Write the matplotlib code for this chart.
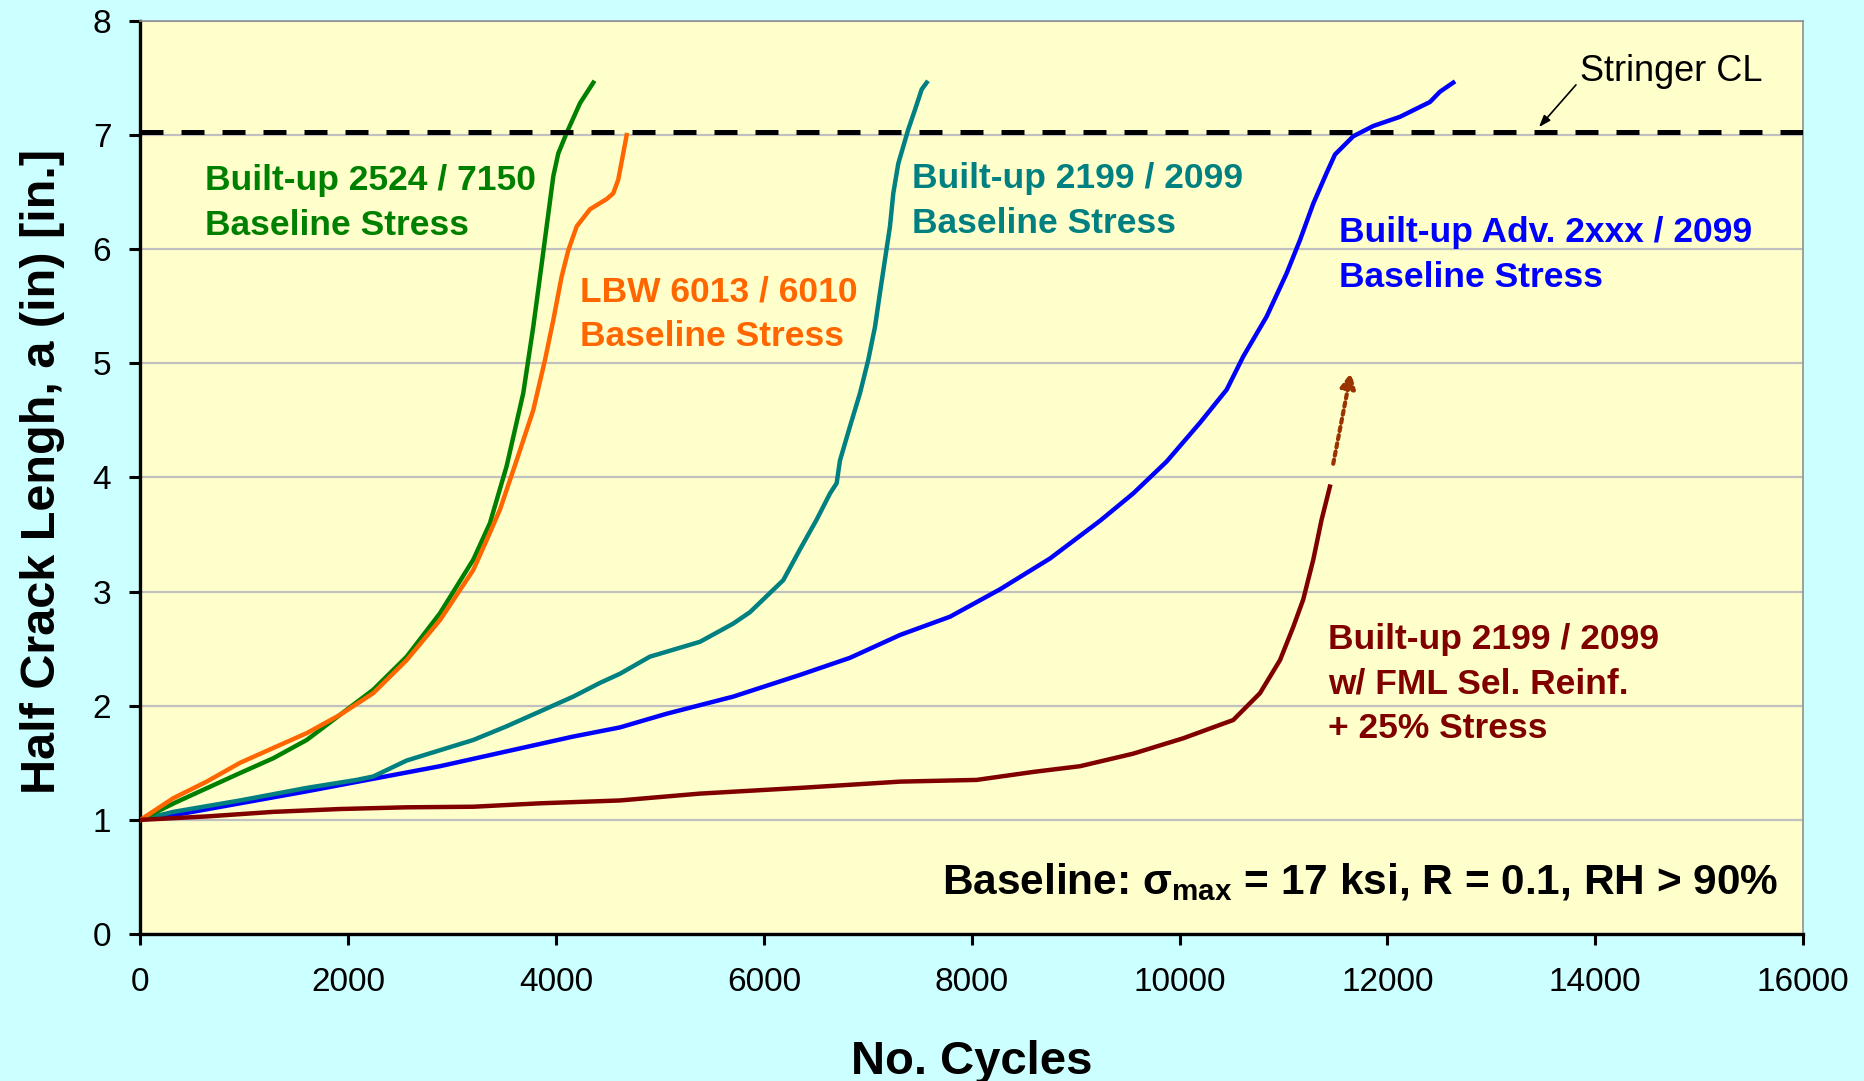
import matplotlib
matplotlib.use("Agg")
import matplotlib.pyplot as plt

plt.rcParams["font.family"] = ["Liberation Sans", "DejaVu Sans"]
plt.rcParams["mathtext.fontset"] = "custom"
plt.rcParams["mathtext.rm"] = "Liberation Sans"
plt.rcParams["mathtext.it"] = "Liberation Sans:italic"
plt.rcParams["mathtext.bf"] = "Liberation Sans:bold"

# crack growth curves (cycles, half crack length in inches)
green_x = [0, 320, 637, 958, 1278, 1600, 1920, 2240, 2562, 2882, 3203, 3363, 3524,
           3684, 3780, 3845, 3909, 3973, 4021, 4102, 4230, 4358]
green_y = [1.0, 1.145, 1.277, 1.41, 1.54, 1.70, 1.92, 2.14, 2.43, 2.81, 3.28, 3.60, 4.10,
           4.74, 5.32, 5.76, 6.20, 6.64, 6.84, 7.02, 7.28, 7.46]

orange_x = [0, 316, 637, 958, 1278, 1600, 1920, 2240, 2562, 2882, 3203, 3331, 3460,
            3620, 3780, 3893, 3973, 4053, 4117, 4198, 4326, 4487, 4550, 4598, 4646, 4679]
orange_y = [1.0, 1.19, 1.335, 1.50, 1.63, 1.76, 1.92, 2.11, 2.40, 2.75, 3.19, 3.45, 3.72,
            4.15, 4.59, 5.03, 5.38, 5.76, 5.99, 6.20, 6.35, 6.44, 6.49, 6.61, 6.84, 7.00]

teal_x = [0, 316, 958, 1600, 2080, 2240, 2562, 2882, 3203, 3524, 3845, 4165, 4422, 4614,
          4903, 5384, 5705, 5866, 6026, 6186, 6347, 6507, 6636, 6700, 6732, 6829, 6925,
          7004, 7069, 7117, 7165, 7213, 7245, 7293, 7341, 7389, 7453, 7518, 7566]
teal_y = [1.0, 1.07, 1.17, 1.28, 1.35, 1.38, 1.52, 1.61, 1.70, 1.82, 1.95, 2.08, 2.20, 2.28,
          2.43, 2.56, 2.72, 2.82, 2.96, 3.10, 3.37, 3.63, 3.86, 3.95, 4.15, 4.45, 4.74,
          5.03, 5.32, 5.62, 5.91, 6.20, 6.49, 6.75, 6.90, 7.05, 7.22, 7.40, 7.46]

blue_x = [0, 316, 958, 1600, 2240, 2882, 3524, 4165, 4614, 5064, 5705, 6347, 6829, 7310,
          7791, 8272, 8753, 9234, 9554, 9876, 10197, 10454, 10613, 10838, 11031, 11159,
          11287, 11416, 11496, 11672, 11865, 12121, 12410, 12506, 12634]
blue_y = [1.0, 1.04, 1.145, 1.25, 1.36, 1.47, 1.60, 1.73, 1.81, 1.93, 2.08, 2.27, 2.42, 2.62,
          2.78, 3.02, 3.29, 3.62, 3.86, 4.14, 4.48, 4.77, 5.06, 5.41, 5.79, 6.08,
          6.40, 6.67, 6.83, 6.99, 7.08, 7.16, 7.29, 7.38, 7.46]

brown_x = [0, 637, 1278, 1920, 2562, 3203, 3845, 4614, 5384, 6347, 7310, 8047, 8592, 9042,
           9554, 10036, 10517, 10774, 10967, 11094, 11190, 11287, 11367, 11447]
brown_y = [1.0, 1.03, 1.07, 1.095, 1.11, 1.115, 1.145, 1.17, 1.23, 1.28, 1.335, 1.35, 1.42, 1.47,
           1.58, 1.715, 1.875, 2.11, 2.40, 2.69, 2.93, 3.28, 3.63, 3.92]

# dotted extrapolation arrow for the FML curve
fml_arrow_start = (11479, 4.12)
fml_arrow_tip = (11650, 4.92)

stringer_cl = 7.03

x_ticks = list(range(0, 16001, 2000))
y_ticks = list(range(0, 9))

fig = plt.figure(figsize=(18.64, 10.81), dpi=100, facecolor="#CCFFFF")
ax = fig.add_axes([0.07537, 0.136, 0.8919, 0.8446])
ax.set_facecolor("#FFFFCC")

ax.set_xlim(0, 16000)
ax.set_ylim(0, 8)
ax.set_xticks(x_ticks)
ax.set_yticks(y_ticks)
ax.set_axisbelow(True)
ax.yaxis.grid(True, color="#C0C0C0", linewidth=1.6)

for side in ["left", "bottom"]:
    ax.spines[side].set_linewidth(2.4)
    ax.spines[side].set_color("black")
for side in ["top", "right"]:
    ax.spines[side].set_linewidth(1.2)
    ax.spines[side].set_color("#909090")

ax.tick_params(axis="both", direction="out", length=8, width=2.2, colors="black", labelsize=24)
ax.tick_params(axis="y", pad=13)
ax.tick_params(axis="x", pad=16)

# curves
ax.plot(blue_x, blue_y, color="#0000FF", lw=3.2, zorder=3)
ax.plot(teal_x, teal_y, color="#008080", lw=3.2, zorder=3)
ax.plot(green_x, green_y, color="#008000", lw=3.2, zorder=3)
ax.plot(orange_x, orange_y, color="#FF6600", lw=3.2, zorder=3)
ax.plot(brown_x, brown_y, color="#800000", lw=3.2, zorder=4)

# stringer centre line
ax.axhline(stringer_cl, color="black", lw=3.6, dashes=(4.6, 3.6), zorder=5)

ax.annotate("", xy=fml_arrow_tip, xytext=fml_arrow_start,
            arrowprops=dict(arrowstyle="-|>,head_length=0.9,head_width=0.45",
                            color="#993300", lw=3, linestyle=(0, (1, 1)),
                            shrinkA=0, shrinkB=0), zorder=4)

ax.text(13850, 7.56, "Stringer CL", fontsize=26, color="black", ha="left", va="center")
ax.annotate("", xy=(13459, 7.07), xytext=(13815, 7.44),
            arrowprops=dict(arrowstyle="-|>,head_length=0.7,head_width=0.25",
                            color="black", lw=1.2, shrinkA=0, shrinkB=0))

# curve labels (y is the baseline of the last line)
label_kw = dict(fontsize=25.5, fontweight="bold", ha="left", va="baseline", linespacing=1.45)
ax.text(621, 6.126, "Built-up 2524 / 7150\nBaseline Stress", color="#008000", **label_kw)
ax.text(4230, 5.153, "LBW 6013 / 6010\nBaseline Stress", color="#FF6600", **label_kw)
ax.text(7422, 6.146, "Built-up 2199 / 2099\nBaseline Stress", color="#008080", **label_kw)
ax.text(11537, 5.673, "Built-up Adv. 2xxx / 2099\nBaseline Stress", color="#0000FF", **label_kw)
ax.text(11431, 1.715, "Built-up 2199 / 2099\nw/ FML Sel. Reinf.\n+ 25% Stress",
        color="#800000", **label_kw)

ax.text(7715, 0.35, r"Baseline: $\mathregular{\sigma_{max}}$ = 17 ksi, R = 0.1, RH > 90%",
        fontsize=30.5, fontweight="bold", ha="left", va="baseline", color="black")

ax.set_xlabel("No. Cycles", fontsize=34, fontweight="bold")
ax.xaxis.label.set_va("baseline")
ax.xaxis.set_label_coords(0.5, -0.1533)
ax.set_ylabel("Half Crack Lengh, a (in) [in.]", fontsize=35, fontweight="bold")
ax.yaxis.set_label_coords(-0.0454, 0.507)

fig.savefig("out.png", dpi=100, facecolor=fig.get_facecolor())
